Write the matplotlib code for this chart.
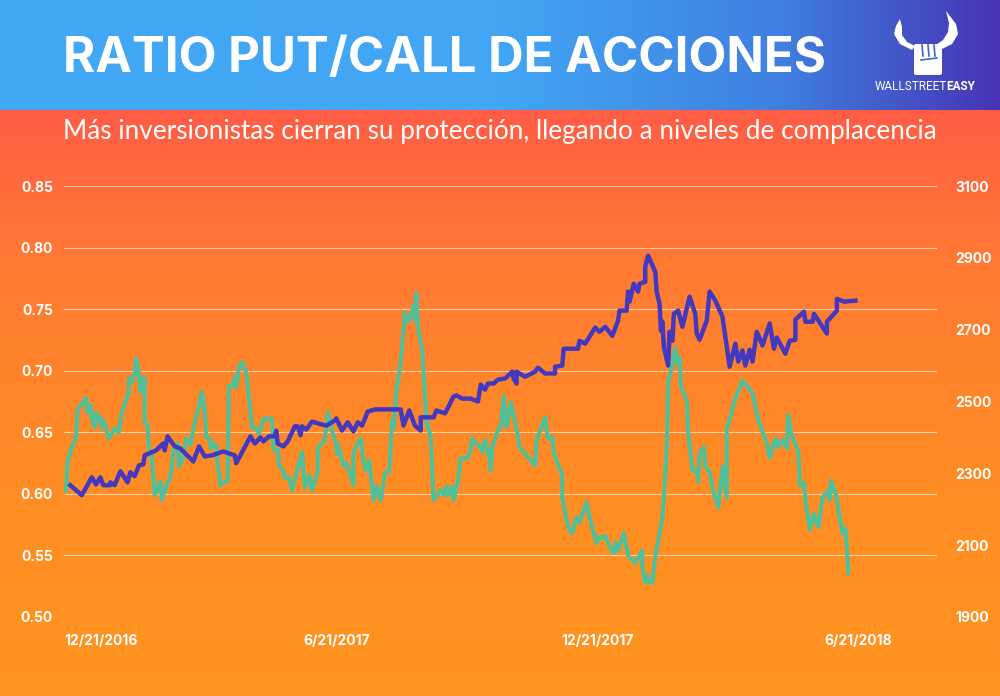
import numpy as np
import pandas as pd
import matplotlib
matplotlib.use('Agg')
import matplotlib.pyplot as plt
import matplotlib.transforms as mtransforms
from matplotlib.patches import FancyBboxPatch, Polygon

start = pd.Timestamp('2016-12-21')

# ratio put/call (eje izquierdo) - dias contados desde 12/21/2016
ratio_days = [-7, -6, -3, 0, 1, 7, 8, 10, 11, 13, 14, 16, 17, 18, 19, 23, 27, 30, 32, 37,
              37, 39, 41, 42, 44, 45, 47, 48, 48, 50, 51, 53, 55, 59, 60, 63, 66, 68, 71, 72,
              75, 77, 80, 83, 86, 88, 90, 91, 94, 94, 96, 98, 99, 101, 106, 107, 110, 111, 112, 114,
              116, 119, 123, 126, 128, 131, 137, 138, 141, 142, 145, 146, 149, 151, 158, 160, 163, 165, 169, 169,
              174, 176, 178, 181, 183, 183, 187, 189, 192, 194, 194, 199, 201, 203, 205, 208, 210, 213, 216, 219,
              221, 222, 224, 227, 230, 232, 235, 236, 237, 238, 239, 242, 245, 248, 250, 255, 257, 259, 260, 263,
              264, 267, 269, 274, 276, 277, 280, 283, 284, 286, 289, 290, 291, 295, 297, 299, 301, 304, 307, 308,
              310, 321, 322, 328, 330, 333, 334, 340, 340, 344, 347, 350, 352, 357, 359, 364, 365, 368, 370, 373,
              376, 377, 379, 383, 386, 391, 396, 396, 398, 399, 401, 403, 405, 410, 411, 413, 414, 417, 419, 420,
              422, 423, 427, 428, 431, 434, 435, 436, 439, 440, 443, 445, 449, 452, 455, 455, 457, 460, 462, 466,
              473, 477, 483, 485, 489, 491, 494, 497, 498, 500, 505, 506, 509, 510, 513, 516, 519, 522, 526, 527,
              528, 531, 536, 538, 539, 540]
ratio_vals = [0.603, 0.625, 0.638, 0.645, 0.668, 0.678, 0.666, 0.672, 0.662, 0.654,
              0.666, 0.660, 0.662, 0.654, 0.660, 0.645, 0.653, 0.650, 0.666, 0.683,
              0.694, 0.691, 0.697, 0.710, 0.698, 0.683, 0.694, 0.694, 0.658, 0.656,
              0.637, 0.630, 0.599, 0.610, 0.595, 0.606, 0.614, 0.634, 0.641, 0.622,
              0.630, 0.645, 0.640, 0.658, 0.671, 0.683, 0.668, 0.646, 0.644, 0.637,
              0.640, 0.640, 0.625, 0.607, 0.611, 0.688, 0.688, 0.695, 0.687, 0.703,
              0.707, 0.699, 0.654, 0.653, 0.649, 0.661, 0.661, 0.636, 0.636, 0.623,
              0.619, 0.613, 0.613, 0.603, 0.634, 0.605, 0.615, 0.603, 0.618, 0.637,
              0.644, 0.666, 0.656, 0.644, 0.632, 0.640, 0.623, 0.625, 0.615, 0.607,
              0.634, 0.645, 0.626, 0.619, 0.627, 0.595, 0.606, 0.595, 0.617, 0.618,
              0.660, 0.653, 0.684, 0.706, 0.747, 0.740, 0.747, 0.753, 0.741, 0.763,
              0.735, 0.718, 0.660, 0.646, 0.595, 0.603, 0.599, 0.606, 0.599, 0.606,
              0.595, 0.610, 0.629, 0.629, 0.637, 0.645, 0.640, 0.638, 0.634, 0.644,
              0.630, 0.619, 0.638, 0.652, 0.654, 0.679, 0.654, 0.674, 0.658, 0.653,
              0.638, 0.623, 0.644, 0.662, 0.645, 0.646, 0.633, 0.615, 0.597, 0.573,
              0.568, 0.581, 0.577, 0.593, 0.581, 0.560, 0.565, 0.564, 0.566, 0.557,
              0.552, 0.560, 0.554, 0.568, 0.550, 0.544, 0.554, 0.540, 0.528, 0.534,
              0.528, 0.528, 0.549, 0.581, 0.597, 0.636, 0.690, 0.706, 0.718, 0.706,
              0.711, 0.687, 0.676, 0.650, 0.619, 0.619, 0.610, 0.633, 0.638, 0.622,
              0.618, 0.605, 0.589, 0.622, 0.597, 0.654, 0.660, 0.674, 0.680, 0.692,
              0.682, 0.660, 0.641, 0.629, 0.645, 0.638, 0.644, 0.637, 0.664, 0.649,
              0.634, 0.607, 0.609, 0.595, 0.571, 0.584, 0.573, 0.597, 0.603, 0.595,
              0.611, 0.601, 0.568, 0.572, 0.554, 0.536]

# S&P 500 (eje derecho)
spx_days = [-4, 0, 4, 8, 11, 14, 17, 19, 24, 24, 27, 31, 36, 38, 41, 44, 47, 48, 56, 61,
            62, 64, 69, 73, 82, 86, 90, 95, 103, 111, 112, 122, 125, 129, 131, 135, 139, 140, 141, 145,
            148, 153, 155, 157, 158, 161, 165, 172, 175, 181, 182, 186, 190, 194, 197, 200, 204, 209, 227, 229,
            233, 237, 241, 241, 250, 252, 258, 264, 266, 270, 276, 281, 283, 286, 288, 292, 295, 300, 305, 306,
            308, 308, 314, 321, 323, 328, 335, 335, 340, 341, 351, 352, 356, 363, 366, 370, 375, 379, 380, 385,
            386, 387, 390, 393, 394, 398, 398, 400, 405, 406, 408, 409, 410, 411, 414, 415, 417, 418, 421, 424,
            429, 433, 434, 436, 441, 443, 447, 452, 457, 461, 463, 466, 468, 471, 473, 476, 480, 485, 488, 490,
            496, 499, 503, 503, 509, 510, 515, 516, 525, 525, 532, 532, 537, 545]
spx_vals = [2267, 2253, 2239, 2267, 2289, 2269, 2289, 2267, 2267, 2275,
            2267, 2306, 2275, 2303, 2292, 2322, 2325, 2350, 2364, 2383,
            2364, 2403, 2375, 2369, 2333, 2375, 2347, 2350, 2361, 2350,
            2328, 2403, 2383, 2400, 2389, 2403, 2403, 2419, 2383, 2375,
            2389, 2431, 2431, 2406, 2431, 2422, 2444, 2436, 2433, 2447,
            2453, 2419, 2442, 2417, 2442, 2433, 2472, 2478, 2478, 2433,
            2475, 2433, 2419, 2456, 2456, 2475, 2467, 2514, 2517, 2508,
            2508, 2500, 2547, 2533, 2550, 2550, 2561, 2564, 2583, 2564,
            2550, 2583, 2569, 2583, 2594, 2578, 2578, 2597, 2600, 2647,
            2647, 2669, 2661, 2706, 2694, 2708, 2683, 2725, 2753, 2753,
            2806, 2778, 2828, 2806, 2828, 2833, 2875, 2906, 2861, 2806,
            2772, 2697, 2722, 2653, 2600, 2694, 2669, 2744, 2753, 2708,
            2792, 2744, 2689, 2672, 2725, 2806, 2781, 2736, 2597, 2661,
            2611, 2642, 2600, 2644, 2611, 2694, 2656, 2717, 2647, 2678,
            2633, 2669, 2672, 2728, 2750, 2722, 2722, 2744, 2689, 2722,
            2753, 2786, 2778, 2781]

tick_dates = ['2016-12-21', '2017-06-21', '2017-12-21', '2018-06-21']
tick_labels = ['12/21/2016', '6/21/2017', '12/21/2017', '6/21/2018']
left_ticks = [0.50, 0.55, 0.60, 0.65, 0.70, 0.75, 0.80, 0.85]
right_ticks = [1900, 2100, 2300, 2500, 2700, 2900, 3100]

title = 'RATIO PUT/CALL DE ACCIONES'
subtitle = 'Más inversionistas cierran su protección, llegando a niveles de complacencia'

green = '#50C09B'
purple = '#4338BE'
W, H = 1000, 696
HEADER = 110


def rgb(h):
    return np.array([int(h[i:i + 2], 16) for i in (1, 3, 5)]) / 255.0


def ramp(t, pos, cols):
    cols = np.array([rgb(c) for c in cols])
    return np.stack([np.interp(t, pos, cols[:, k]) for k in range(3)], axis=-1)


fig = plt.figure(figsize=(W / 100, H / 100), dpi=100)

# fondo: cabecera azul + degradado naranja
img = np.zeros((H, W, 3))
hx = ramp(np.linspace(0, 1, W), [0, 0.5, 0.78, 1.0],
          ['#42A8F5', '#42A6F4', '#3F80E0', '#4733B4'])
img[:HEADER] = hx[None, :, :]
ty = np.linspace(0, 1, H - HEADER)
body = ramp(ty, [0, 0.25, 0.6, 1.0], ['#FF5D47', '#FF7934', '#FF8B25', '#FF9520'])
img[HEADER:] = body[:, None, :]

bg = fig.add_axes([0, 0, 1, 1])
bg.imshow(img, extent=[0, W, H, 0], aspect='auto', interpolation='bilinear')
bg.set_xlim(0, W)
bg.set_ylim(H, 0)
bg.axis('off')
bg.set_zorder(-10)

t_title = bg.text(63, 59, title, color='white', fontsize=38, fontweight='bold',
                  family='Inter', va='center', ha='left')
t_sub = bg.text(500, 131, subtitle, color='white', fontsize=16,
                family='Lato', va='center', ha='center')

# logo (cuernos + puño)
left_horn = Polygon([(912, 50), (900, 44), (894, 34), (896, 26), (900, 19),
                     (902, 27), (902, 35), (907, 42), (915, 46)],
                    closed=True, facecolor='white', edgecolor='none')
right_horn = Polygon([(940, 50), (952, 44), (958, 34), (956, 24), (946, 11),
                      (949, 23), (948, 32), (943, 40), (936, 45)],
                     closed=True, facecolor='white', edgecolor='none')
bg.add_patch(left_horn)
bg.add_patch(right_horn)
bg.add_patch(FancyBboxPatch((916, 46), 24, 27, boxstyle='round,pad=2',
                            facecolor='white', edgecolor='none'))
for xx in (922, 928, 934):
    bg.plot([xx, xx + 1], [45, 56], color='#4462D2', lw=1.2)
bg.plot([921, 937], [60, 58], color='#4462D2', lw=1.2)
bg.text(947, 87, 'WALLSTREET', color='white', fontsize=8.5, family='Roboto',
        ha='right', va='center')
bg.text(946, 87, 'EASY', color='white', fontsize=8.5, family='Roboto',
        fontweight='bold', ha='left', va='center')

# grafico
ax = fig.add_axes([64 / W, 1 - 617 / H, 873 / W, 431 / H])
ax.patch.set_alpha(0)
ax2 = ax.twinx()

rd = start + pd.to_timedelta(ratio_days, unit='D')
sd = start + pd.to_timedelta(spx_days, unit='D')

ax.plot(rd, ratio_vals, color=green, lw=3)
ax2.plot(sd, spx_vals, color=purple, lw=3.2)

ax.set_ylim(0.50, 0.85)
ax2.set_ylim(1900, 3100)
ax.set_xlim(start - pd.Timedelta(days=8.4), start + pd.Timedelta(days=602))
ax.set_yticks(left_ticks)
ax.set_yticklabels(['%.2f' % v for v in left_ticks])
ax2.set_yticks(right_ticks)
ax.set_xticks(pd.to_datetime(tick_dates))
ax.set_xticklabels(tick_labels)

ax.grid(axis='y', color='white', alpha=0.6, lw=0.8)
ax.grid(axis='x', visible=False)
for a in (ax, ax2):
    for s in a.spines.values():
        s.set_visible(False)
    a.tick_params(length=0, colors='white', labelsize=10)
ax.tick_params(axis='y', pad=8)
ax.tick_params(axis='x', pad=12)
ax2.tick_params(axis='y', pad=13)
for lab in ax.get_xticklabels() + ax.get_yticklabels() + ax2.get_yticklabels():
    lab.set_fontweight('bold')
    lab.set_family('Inter')

first = ax.get_xticklabels()[0]
first.set_ha('left')
first.set_transform(first.get_transform() +
                    mtransforms.ScaledTranslation(-12 / 100, 0, fig.dpi_scale_trans))

# ajustar ancho de titulos
fig.canvas.draw()
r = fig.canvas.get_renderer()
for t, target in ((t_title, 763), (t_sub, 876)):
    w = t.get_window_extent(r).width
    t.set_fontsize(t.get_fontsize() * target / w)

fig.savefig('out.png', dpi=100)
